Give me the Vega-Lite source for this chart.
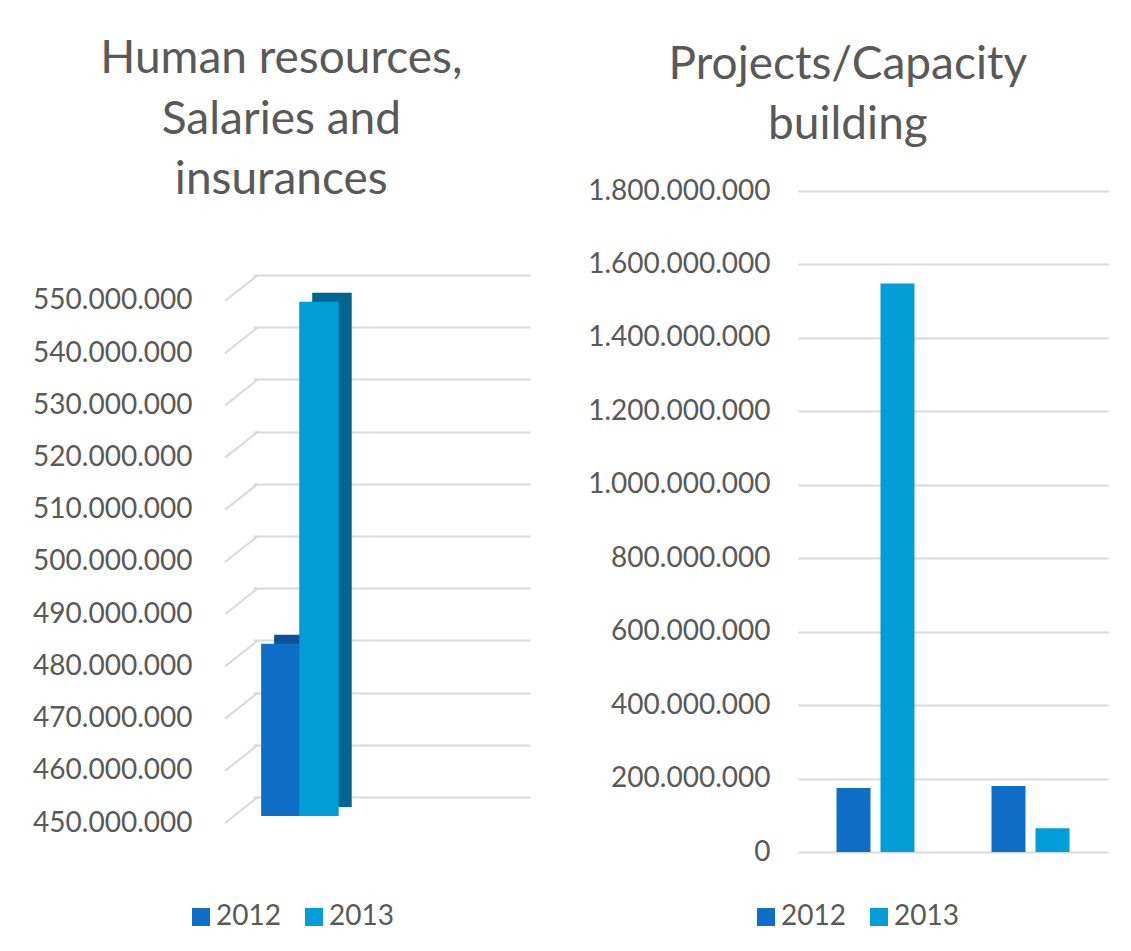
{
  "$schema": "https://vega.github.io/schema/vega-lite/v6.json",
  "padding": {"left": 32, "top": 36, "right": 21, "bottom": 0},
  "autosize": {"type": "pad"},
  "background": "white",
  "config": {
    "locale": {"number": {"decimal": ",", "thousands": ".", "grouping": [3], "currency": ["", ""]}},
    "font": "Lato",
    "view": {"stroke": null},
    "axis": {"labelFont": "Lato", "labelFontSize": 28, "labelColor": "#595959", "labelLimit": 400, "gridColor": "#d9d9d9", "gridWidth": 2, "domain": false, "ticks": false, "title": null},
    "title": {"font": "Lato", "fontSize": 46, "fontWeight": "normal", "color": "#595959", "lineHeight": 60.5, "anchor": "middle", "frame": "bounds"},
    "legend": {"orient": "none", "direction": "horizontal", "title": null, "padding": 0, "labelFont": "Lato", "labelFontSize": 28, "labelColor": "#595959", "symbolType": "square", "symbolSize": 324, "symbolStrokeWidth": 0, "symbolOpacity": 1, "columnPadding": 19, "labelOffset": 1}
  },
  "datasets": {
    "hr": [
      {"category": "Human resources, Salaries and insurances", "year": 2012, "amount": 483000000},
      {"category": "Human resources, Salaries and insurances", "year": 2013, "amount": 548500000}
    ],
    "hrgrid": [
      {"value": 450000000}, {"value": 460000000}, {"value": 470000000}, {"value": 480000000}, {"value": 490000000}, {"value": 500000000},
      {"value": 510000000}, {"value": 520000000}, {"value": 530000000}, {"value": 540000000}, {"value": 550000000}
    ],
    "proj": [
      {"category": "Projects", "year": "2012", "amount": 174000000},
      {"category": "Projects", "year": "2013", "amount": 1548000000},
      {"category": "Capacity building", "year": "2012", "amount": 180000000},
      {"category": "Capacity building", "year": "2013", "amount": 65000000}
    ]
  },
  "spacing": 57,
  "resolve": {"scale": {"color": "independent", "x": "independent", "xOffset": "independent", "y": "independent"}, "legend": {"color": "independent"}},
  "hconcat": [
    {
      "width": 277,
      "height": 606,
      "title": {"text": ["Human resources,", "Salaries and", "insurances"], "offset": -13},
      "layer": [
        {
          "data": {"name": "hrgrid"},
          "mark": {"type": "rule", "color": "#d9d9d9", "strokeWidth": 2, "xOffset": -33, "yOffset": 26},
          "encoding": {
            "x": {"datum": 2011.399, "type": "quantitative", "scale": {"domain": [2011.399, 2018.412], "nice": false, "zero": false}, "axis": null},
            "x2": {"datum": 2011.399},
            "y": {"field": "value", "type": "quantitative", "scale": {"domain": [450000000, 566090000], "zero": false, "nice": false},
                  "axis": {"values": [450000000, 460000000, 470000000, 480000000, 490000000, 500000000, 510000000, 520000000, 530000000, 540000000, 550000000], "format": ",d", "labelPadding": 61, "labelOffset": 26, "grid": true}},
            "y2": {"field": "value"}
          }
        },
        {
          "data": {"name": "hr"},
          "mark": {"type": "bar", "width": 39.5, "xOffset": 13, "yOffset": 10, "y2Offset": 10},
          "encoding": {
            "x": {"field": "year", "type": "quantitative"},
            "y": {"field": "amount", "type": "quantitative"},
            "y2": {"datum": 450000000},
            "color": {"condition": {"test": "datum.year == 2012", "value": "#0A519A"}, "value": "#00668D"}
          }
        },
        {
          "data": {"name": "hr"},
          "mark": {"type": "bar", "width": 39.5, "yOffset": 19, "y2Offset": 19},
          "encoding": {
            "x": {"field": "year", "type": "quantitative"},
            "y": {"field": "amount", "type": "quantitative"},
            "y2": {"datum": 450000000},
            "color": {"field": "year", "type": "nominal", "scale": {"domain": [2012, 2013], "range": ["#0F6FC6", "#009DD9"]},
                      "legend": {"legendX": -66, "legendY": 712}}
          }
        }
      ]
    },
    {
      "width": 310,
      "height": 661,
      "title": {"text": ["Projects/Capacity", "building"], "offset": 28},
      "data": {"name": "proj"},
      "mark": {"type": "bar"},
      "encoding": {
        "x": {"field": "category", "type": "nominal", "sort": null, "axis": null, "scale": {"paddingInner": 0, "paddingOuter": 0}},
        "xOffset": {"field": "year", "type": "nominal", "scale": {"paddingInner": 0.227, "paddingOuter": 0.875}},
        "y": {"field": "amount", "type": "quantitative", "scale": {"domain": [0, 1800000000]},
              "axis": {"values": [0, 200000000, 400000000, 600000000, 800000000, 1000000000, 1200000000, 1400000000, 1600000000, 1800000000], "format": ",d", "labelPadding": 28, "grid": true}},
        "color": {"field": "year", "type": "nominal", "scale": {"domain": ["2012", "2013"], "range": ["#0F6FC6", "#009DD9"]},
                  "legend": {"legendX": -46, "legendY": 712}}
      }
    }
  ]
}
